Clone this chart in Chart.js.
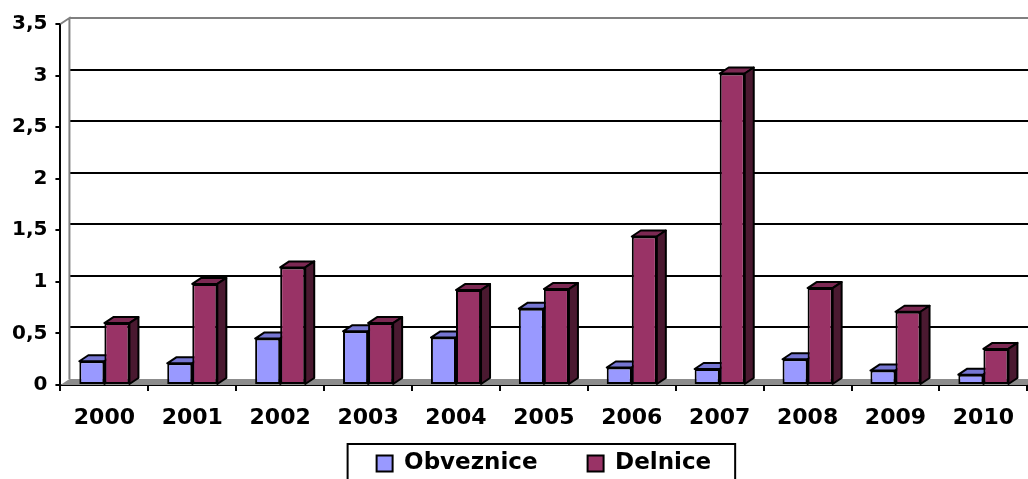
<!DOCTYPE html>
<html lang="sl">
<head>
    <meta charset="UTF-8">
    <title>Obveznice in delnice</title>
    <script src="https://cdn.jsdelivr.net/npm/chart.js"></script>
    <style>
        html, body { margin: 0; padding: 0; background: #fff; overflow: hidden; }
        .chart-box { position: relative; width: 1028px; height: 485px; }
    </style>
</head>
<body>
    <div class="chart-box">
        <canvas id="chart"></canvas>
    </div>

    <script>
        const years = ['2000', '2001', '2002', '2003', '2004', '2005', '2006', '2007', '2008', '2009', '2010'];
        const obveznice = [0.23, 0.21, 0.45, 0.52, 0.46, 0.74, 0.17, 0.155, 0.25, 0.14, 0.10];
        const delnice = [0.60, 0.98, 1.14, 0.60, 0.92, 0.93, 1.44, 3.02, 0.94, 0.71, 0.35];
        const yTickLabels = ['0', '0,5', '1', '1,5', '2', '2,5', '3', '3,5'];

        const FONT = "'DejaVu Sans', sans-serif";
        const DX = 9, DY = 6;   // depth of the fake 3D
        const faceColors = [
            { top: '#7676d2', side: '#4c4c80' },
            { top: '#7c2953', side: '#4a1930' }
        ];

        // back wall, floor and the top/side faces of the bars
        const depthPlugin = {
            id: 'depth',
            afterLayout(chart) {
                // x axis is squeezed so the legend can sit close; let its labels draw below it
                const x = chart.scales.x;
                x.bottom = x.top + 50;
            },
            beforeDatasetsDraw(chart) {
                const ctx = chart.ctx;
                const a = chart.chartArea;
                const yScale = chart.scales.y;
                ctx.save();

                // floor
                ctx.fillStyle = '#8c8c8c';
                ctx.beginPath();
                ctx.moveTo(a.left, a.bottom);
                ctx.lineTo(a.left + DX, a.bottom - DY);
                ctx.lineTo(a.right + DX, a.bottom - DY);
                ctx.lineTo(a.right, a.bottom);
                ctx.closePath();
                ctx.fill();

                // grid lines on the back wall
                ctx.lineWidth = 2;
                yScale.ticks.forEach(t => {
                    if (t.value === 0) return;
                    const y = Math.round(yScale.getPixelForValue(t.value) - DY);
                    ctx.strokeStyle = t.value === yScale.max ? '#808080' : '#000';
                    ctx.beginPath();
                    ctx.moveTo(a.left + DX, y);
                    ctx.lineTo(a.right + DX, y);
                    ctx.stroke();
                });

                // wall edges
                ctx.strokeStyle = '#808080';
                ctx.beginPath();
                ctx.moveTo(a.left, a.top);
                ctx.lineTo(a.left + DX, a.top - DY);
                ctx.lineTo(a.left + DX, a.bottom - DY);
                ctx.stroke();

                // bar top and side faces
                ctx.strokeStyle = '#000';
                ctx.lineJoin = 'round';
                chart.data.datasets.forEach((ds, di) => {
                    const meta = chart.getDatasetMeta(di);
                    meta.data.forEach(bar => {
                        const p = bar.getProps(['x', 'y', 'base', 'width'], true);
                        const l = p.x - p.width / 2, r = p.x + p.width / 2;
                        ctx.fillStyle = faceColors[di].top;
                        ctx.beginPath();
                        ctx.moveTo(l, p.y);
                        ctx.lineTo(l + DX, p.y - DY);
                        ctx.lineTo(r + DX, p.y - DY);
                        ctx.lineTo(r, p.y);
                        ctx.closePath();
                        ctx.fill();
                        ctx.stroke();

                        ctx.fillStyle = faceColors[di].side;
                        ctx.beginPath();
                        ctx.moveTo(r, p.y);
                        ctx.lineTo(r + DX, p.y - DY);
                        ctx.lineTo(r + DX, p.base - DY);
                        ctx.lineTo(r, p.base);
                        ctx.closePath();
                        ctx.fill();
                        ctx.stroke();
                    });
                });
                ctx.restore();
            },
            afterDraw(chart) {
                // frame round the legend
                const boxes = chart.legend.legendHitBoxes;
                if (!boxes || !boxes.length) return;
                const last = boxes[boxes.length - 1];
                const ctx = chart.ctx;
                ctx.save();
                ctx.strokeStyle = '#000';
                ctx.lineWidth = 2;
                ctx.strokeRect(boxes[0].left - 29, boxes[0].top - 8,
                    last.left + last.width + 24 - (boxes[0].left - 29), 60);
                ctx.restore();
            }
        };

        new Chart(document.getElementById('chart'), {
            type: 'bar',
            data: {
                labels: years,
                datasets: [{
                    label: 'Obveznice',
                    data: obveznice,
                    backgroundColor: '#9999ff',
                    borderColor: '#000',
                    borderWidth: 2,
                    borderSkipped: false,
                    categoryPercentage: 0.57,
                    barPercentage: 1.0
                }, {
                    label: 'Delnice',
                    data: delnice,
                    backgroundColor: '#993366',
                    borderColor: '#000',
                    borderWidth: 2,
                    borderSkipped: false,
                    categoryPercentage: 0.57,
                    barPercentage: 1.0
                }]
            },
            options: {
                responsive: true,
                maintainAspectRatio: false,
                animation: false,
                layout: { padding: { top: 24, left: 4, right: 0, bottom: 0 } },
                plugins: {
                    tooltip: { enabled: false },
                    legend: {
                        position: 'bottom',
                        fullSize: false,
                        labels: {
                            color: '#000',
                            font: { family: FONT, size: 23, weight: 'bold' },
                            boxWidth: 16,
                            boxHeight: 16,
                            padding: 50
                        }
                    }
                },
                scales: {
                    x: {
                        grid: { drawOnChartArea: false, color: '#000', lineWidth: 2, tickLength: 6 },
                        border: { color: '#000', width: 2 },
                        ticks: {
                            color: '#000',
                            font: { family: FONT, size: 22, weight: 'bold' },
                            padding: 14,
                            maxRotation: 0
                        },
                        afterFit(scale) { scale.height = 17; }
                    },
                    y: {
                        min: 0,
                        max: 3.5,
                        grid: { drawOnChartArea: false, color: '#000', lineWidth: 2, tickLength: 5 },
                        border: { color: '#000', width: 2 },
                        ticks: {
                            stepSize: 0.5,
                            color: '#000',
                            padding: 8,
                            font: { family: FONT, size: 20, weight: 'bold' },
                            callback: (v, i) => yTickLabels[i]
                        }
                    }
                }
            },
            plugins: [depthPlugin]
        });
    </script>
</body>
</html>
